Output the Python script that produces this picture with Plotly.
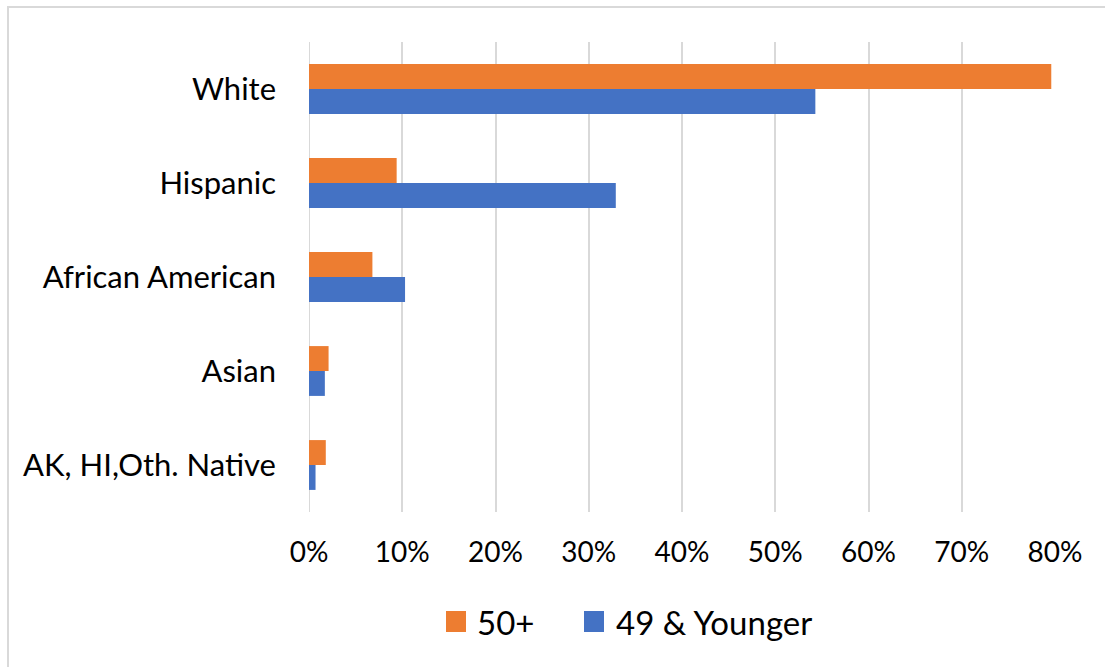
import plotly.graph_objects as go

categories = ["White", "Hispanic", "African American", "Asian", "AK, HI,Oth. Native"]
age_50_plus = [79.6, 9.4, 6.8, 2.1, 1.8]
age_49_younger = [54.3, 32.9, 10.3, 1.7, 0.7]
x_ticks = [0, 10, 20, 30, 40, 50, 60, 70, 80]
x_tick_labels = ["0%", "10%", "20%", "30%", "40%", "50%", "60%", "70%", "80%"]
series_names = ["50+", "49 & Younger"]
series_colors = ["#ED7D31", "#4472C4"]

FONT = "Lato"
L, R, T, B = 309, 50, 42, 155
PW, PH = 1105 - L - R, 667 - T - B


def px_x(x):
    return (x - L) / PW


def px_y(y):
    return (667 - B - y) / PH


fig = go.Figure()
fig.add_trace(go.Bar(
    y=categories, x=age_49_younger, orientation="h", name=series_names[1],
    marker=dict(color=series_colors[1], line=dict(width=0)), showlegend=False,
))
fig.add_trace(go.Bar(
    y=categories, x=age_50_plus, orientation="h", name=series_names[0],
    marker=dict(color=series_colors[0], line=dict(width=0)), showlegend=False,
))

# manual legend (larger swatches like the original)
legend_items = [(446, 475, series_names[0], series_colors[0]),
                (584, 614, series_names[1], series_colors[1])]
shapes = [
    dict(type="line", xref="x", yref="paper", x0=0, x1=0, y0=0, y1=1,
         line=dict(color="#D9D9D9", width=2), layer="below"),
    dict(type="rect", xref="paper", yref="paper",
         x0=px_x(8), x1=px_x(1115), y0=px_y(675), y1=px_y(7),
         line=dict(color="#D9D9D9", width=2), fillcolor="rgba(0,0,0,0)"),
]
annotations = []
for sx, tx, name, color in legend_items:
    shapes.append(dict(type="rect", xref="paper", yref="paper",
                       x0=px_x(sx), x1=px_x(sx + 20), y0=px_y(632), y1=px_y(611),
                       line=dict(width=0), fillcolor=color))
    annotations.append(dict(xref="paper", yref="paper", x=px_x(tx), y=px_y(622),
                            xanchor="left", yanchor="middle", showarrow=False,
                            text=name, font=dict(size=33, family=FONT, color="#000000")))

fig.update_layout(
    width=1105, height=667,
    margin=dict(l=L, r=R, t=T, b=B),
    paper_bgcolor="white", plot_bgcolor="white",
    barmode="group", bargap=0.47, bargroupgap=0,
    font=dict(family=FONT, color="#000000", size=28),
    showlegend=False,
    xaxis=dict(
        range=[0, 80], tickvals=x_ticks, ticktext=x_tick_labels,
        showgrid=True, gridcolor="#D9D9D9", gridwidth=2,
        zeroline=False, showline=False, ticks="",
        ticklabelstandoff=21, tickfont=dict(size=28, family=FONT),
    ),
    yaxis=dict(
        categoryorder="array", categoryarray=categories[::-1],
        showgrid=False, zeroline=False, showline=False, ticks="",
        ticklabelstandoff=32, tickfont=dict(size=31, family=FONT),
    ),
    shapes=shapes,
    annotations=annotations,
)

fig.write_html("out.html")
